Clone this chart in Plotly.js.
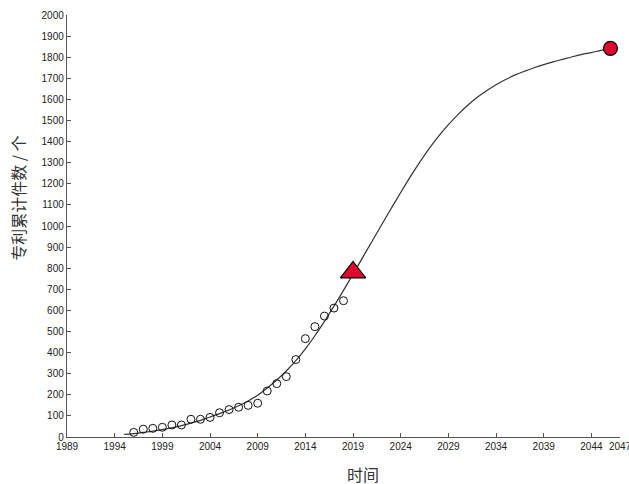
<!DOCTYPE html>
<html><head><meta charset="utf-8">
<script src="https://cdn.plot.ly/plotly-3.0.1.min.js"></script>
<style>html,body{margin:0;padding:0;background:#fff}#c{width:629px;height:484px}</style>
</head><body><div id="c"></div>
<script>
// observed data (patent cumulative count)
const obsYears = [1996,1997,1998,1999,2000,2001,2002,2003,2004,2005,2006,2007,2008,2009,2010,2011,2012,2013,2014,2015,2016,2017,2018];
const obsValues = [22,37,41,46,57,57,84,84,93,115,130,141,150,160,218,253,286,367,466,523,573,611,646];
// fitted curve
const fitYears = [1995,1996,1997,1998,1999,2000,2001,2002,2003,2004,2005,2006,2007,2008,2009,2010,2011,2012,2013,2014,2015,2016,2017,2018,2019,2020,2021,2022,2023,2024,2025,2026,2027,2028,2029,2030,2031,2032,2033,2034,2035,2036,2037,2038,2039,2040,2041,2042,2043,2044,2045,2046];
const fitValues = [12,16,22,28,35,44,54,66,79,95,111,128,148,171,198,232,270,313,362,418,480,548,620,695,772,850,928,1006,1083,1159,1233,1303,1368,1427,1480,1528,1571,1609,1641,1669,1694,1716,1734,1750,1765,1778,1790,1802,1813,1822,1832,1841];
// special points
const turnYear = [2019], turnValue = [780];
const satYear = [2046], satValue = [1842];
const xTicks = [1989,1994,1999,2004,2009,2014,2019,2024,2029,2034,2039,2044,2047];
const yTicks = [0,100,200,300,400,500,600,700,800,900,1000,1100,1200,1300,1400,1500,1600,1700,1800,1900,2000];

const traces = [
  {x: fitYears, y: fitValues, mode:'lines', line:{color:'#333', width:1.2, shape:'spline', smoothing:1}, hoverinfo:'skip'},
  {x: obsYears, y: obsValues, mode:'markers', marker:{symbol:'circle-open', size:8, color:'#111', line:{width:1}}},
  {x: turnYear, y: turnValue, mode:'markers', marker:{symbol:'triangle-up', size:22, color:'#e0062e', line:{color:'#000', width:1.2}}},
  {x: satYear, y: satValue, mode:'markers', marker:{symbol:'circle', size:14, color:'#e0062e', line:{color:'#000', width:1.2}}}
];
const tf = {family:'Liberation Sans, Arial, sans-serif', size:10, color:'#222'};
const layout = {
  width:629, height:484, showlegend:false,
  paper_bgcolor:'#fff', plot_bgcolor:'#fff',
  margin:{l:67, r:9, t:15, b:47},
  xaxis:{range:[1989,2047], tickvals:xTicks, ticktext:xTicks.map(String), ticks:'inside', ticklen:4, tickcolor:'#555',
    showline:true, linecolor:'#555', linewidth:1.2, showgrid:false, zeroline:false, tickfont:tf, fixedrange:true,
    ticklabeloverflow:'allow'},
  yaxis:{range:[0,2000], tickvals:yTicks, ticks:'inside', ticklen:4, tickcolor:'#555',
    showline:true, linecolor:'#555', linewidth:1.2, showgrid:false, zeroline:false, tickfont:tf, fixedrange:true},
  annotations:[
    {text:'专利累计件数 / 个', xref:'paper', yref:'paper', x:-0.09, y:0.565, xanchor:'center', yanchor:'middle', showarrow:false, textangle:-90,
      font:{family:'Noto Sans CJK SC, sans-serif', size:16, color:'#333'}},
    {text:'时间', xref:'paper', yref:'paper', x:0.535, y:-0.087, xanchor:'center', yanchor:'middle', showarrow:false,
      font:{family:'Noto Sans CJK SC, sans-serif', size:16, color:'#333'}}
  ]
};
Plotly.newPlot('c', traces, layout, {displayModeBar:false, staticPlot:true});
</script></body></html>
